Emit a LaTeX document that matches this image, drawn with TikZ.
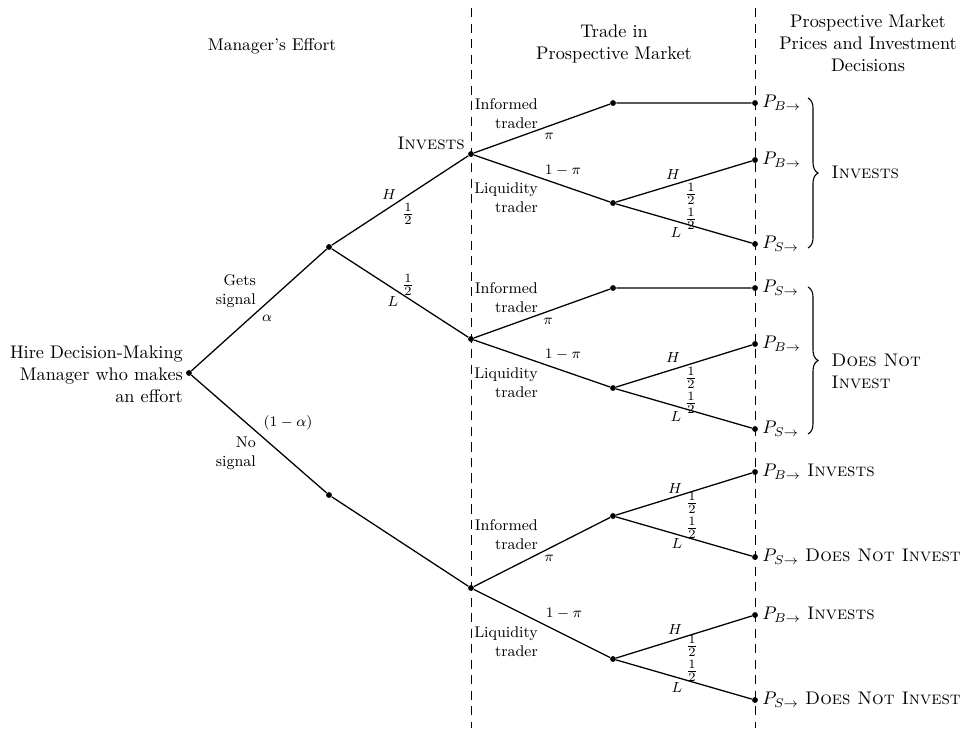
\documentclass[tikz,border=0pt]{standalone}
\usepackage{amssymb}
\usepackage{amsmath}
\usetikzlibrary{positioning, decorations.pathreplacing}
\tikzset{
    x=0.01925cm, y=-0.01925cm, % one unit is one pixel of the layout, y runs downwards
    vertex/.style={circle, fill, inner sep=0pt, minimum size=3.2pt}, % the dots of the tree
    branch/.style={line width=0.7pt}, % the edges of the tree
    divider/.style={dash pattern=on 5pt off 3.5pt, line width=0.5pt}, % the two dashed columns
    lbl/.style={font=\fontsize{8.5}{10.5}\selectfont, inner sep=1pt}, % small labels on the edges
    half/.style={inner sep=0pt}, % the probabilities 1/2
    price/.style={inner sep=1pt}, % prices at the leaves
    bracket/.style={decorate, decoration={brace, amplitude=5.5pt}, line width=0.6pt},
}

\begin{document}
\begin{tikzpicture}
    \useasboundingbox (0,0) rectangle (964,728);
    \draw[divider] (471,8) -- (471,728);
    \draw[divider] (755,8) -- (755,728);
    % headings
    \node[font=\fontsize{9.3}{11}\selectfont] (effort) at (272,46) {Manager's Effort};
    \node[align=center] (trade) at (614,44) {Trade in\\Prospective Market};
    \node[align=center] (prices) at (868,43) {Prospective Market\\Prices and Investment\\Decisions};
    % tree
    \node[vertex] (root) at (189,373) {};
    \node[vertex] (sig) at (329,247) {};
    \node[vertex] (nosig) at (329,495) {};
    \node[vertex] (inv) at (471,154) {};
    \node[vertex] (noinv) at (471,339) {};
    \node[vertex] (blind) at (471,588) {};
    \node[vertex] (a1) at (613,103) {};
    \node[vertex] (a2) at (613,203) {};
    \node[vertex] (b1) at (613,288) {};
    \node[vertex] (b2) at (613,388) {};
    \node[vertex] (c1) at (613,516) {};
    \node[vertex] (c2) at (613,659) {};
    \node[vertex] (a1e) at (755,103) {};
    \node[vertex] (a2h) at (755,160) {};
    \node[vertex] (a2l) at (755,244) {};
    \node[vertex] (b1e) at (755,288) {};
    \node[vertex] (b2h) at (755,344) {};
    \node[vertex] (b2l) at (755,429) {};
    \node[vertex] (c1h) at (755,472) {};
    \node[vertex] (c1l) at (755,557) {};
    \node[vertex] (c2h) at (755,615) {};
    \node[vertex] (c2l) at (755,700) {};
    \draw[branch] (root) -- (sig) (root) -- (nosig)
        (sig) -- (inv) (sig) -- (noinv) (nosig) -- (blind)
        (inv) -- (a1) (inv) -- (a2) (noinv) -- (b1) (noinv) -- (b2)
        (blind) -- (c1) (blind) -- (c2)
        (a1) -- (a1e) (a2) -- (a2h) (a2) -- (a2l)
        (b1) -- (b1e) (b2) -- (b2h) (b2) -- (b2l)
        (c1) -- (c1h) (c1) -- (c1l) (c2) -- (c2h) (c2) -- (c2l);
    % manager's effort
    \node[anchor=east, align=right, inner sep=1pt] (hire) at (185,374) {Hire Decision-Making\\Manager who makes\\an effort};
    \node[lbl, anchor=east, align=right] (gets) at (258,291) {Gets\\signal};
    \node[lbl] (alpha) at (267,318) {$\alpha$};
    \node[lbl] (oneminusalpha) at (288,423) {$(1-\alpha)$};
    \node[lbl, anchor=east, align=right] (nosignal) at (258,453) {No\\signal};
    \node[lbl] (hInv) at (389,195) {$H$};
    \node[half] (halfInv) at (408,214) {$\frac12$};
    \node[half] (halfNoinv) at (408,285) {$\frac12$};
    \node[lbl] (lNoinv) at (393,302) {$L$};
    \node[anchor=east, inner sep=1pt] (investsInv) at (467,143) {\textsc{Invests}};
    % trade in prospective market
    \node[lbl, anchor=east, align=right] (infA) at (540,114) {Informed\\trader};
    \node[lbl] (piA) at (549,136) {$\pi$};
    \node[lbl] (ompA) at (563,171) {$1-\pi$};
    \node[lbl, anchor=east, align=right] (liqA) at (540,198) {Liquidity\\trader};
    \node[lbl, anchor=east, align=right] (infB) at (540,298) {Informed\\trader};
    \node[lbl] (piB) at (548,321) {$\pi$};
    \node[lbl] (ompB) at (563,355) {$1-\pi$};
    \node[lbl, anchor=east, align=right] (liqB) at (540,383) {Liquidity\\trader};
    \node[lbl, anchor=east, align=right] (infC) at (540,535) {Informed\\trader};
    \node[lbl] (piC) at (549,558) {$\pi$};
    \node[lbl] (ompC) at (564,614) {$1-\pi$};
    \node[lbl, anchor=east, align=right] (liqC) at (540,642) {Liquidity\\trader};
    % high and low
    \node[lbl] (hA) at (673,175) {$H$};
    \node[half] (halfAh) at (691,194) {$\frac12$};
    \node[half] (halfAl) at (691,219) {$\frac12$};
    \node[lbl] (lA) at (676,233) {$L$};
    \node[lbl] (hB) at (673,358) {$H$};
    \node[half] (halfBh) at (691,378) {$\frac12$};
    \node[half] (halfBl) at (691,403) {$\frac12$};
    \node[lbl] (lB) at (676,417) {$L$};
    \node[lbl] (hC) at (675,489) {$H$};
    \node[half] (halfCh) at (692,503) {$\frac12$};
    \node[half] (halfCl) at (692,528) {$\frac12$};
    \node[lbl] (lC) at (677,544) {$L$};
    \node[lbl] (hD) at (675,630) {$H$};
    \node[half] (halfDh) at (692,646) {$\frac12$};
    \node[half] (halfDl) at (692,671) {$\frac12$};
    \node[lbl] (lD) at (677,688) {$L$};
    % prices and decisions
    \node[price, right=1pt of a1e] (pA1) {$P_{B\rightarrow}$};
    \node[price, right=1pt of a2h] (pA2) {$P_{B\rightarrow}$};
    \node[price, right=1pt of a2l] (pA3) {$P_{S\rightarrow}$};
    \node[price, right=1pt of b1e] (pB1) {$P_{S\rightarrow}$};
    \node[price, right=1pt of b2h] (pB2) {$P_{B\rightarrow}$};
    \node[price, right=1pt of b2l] (pB3) {$P_{S\rightarrow}$};
    \node[price, right=1pt of c1h] (pC1) {$P_{B\rightarrow}$ \textsc{Invests}};
    \node[price, right=1pt of c1l] (pC2) {$P_{S\rightarrow}$ \textsc{Does Not Invest}};
    \node[price, right=1pt of c2h] (pD1) {$P_{B\rightarrow}$ \textsc{Invests}};
    \node[price, right=1pt of c2l] (pD2) {$P_{S\rightarrow}$ \textsc{Does Not Invest}};
    \draw[bracket] (808,98) -- (808,248);
    \node[anchor=west] (decA) at (825,172) {\textsc{Invests}};
    \draw[bracket] (808,287) -- (808,434);
    \node[anchor=west, align=left] (decB) at (825,371) {\textsc{Does Not}\\\textsc{Invest}};
\end{tikzpicture}
\end{document}
